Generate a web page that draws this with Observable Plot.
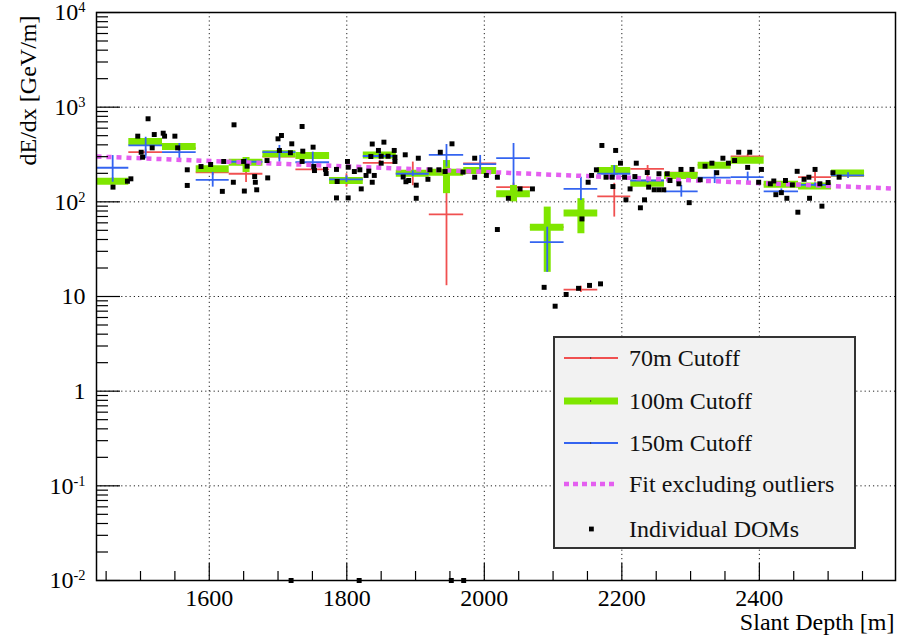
<!DOCTYPE html>
<html><head><meta charset="utf-8">
<script src="https://cdn.jsdelivr.net/npm/d3@7"></script>
<script src="https://cdn.jsdelivr.net/npm/@observablehq/plot@0.6"></script>
<style>
html,body{margin:0;padding:0;background:#fff;}
#chart{position:relative;width:904px;height:638px;overflow:hidden;}
svg{font-family:"Liberation Serif","Times New Roman",serif;}
</style></head><body><div id="chart"></div>
<script>
// ---- data ----
const binEdges = [1436,1483,1532,1581,1629,1678,1726,1775,1824,1872,1920,1970,2018,2067,2116,2165,2213,2262,2311,2359,2407,2457,2505,2553];

const cut70   = [165,335,370,205,198,301,220,172,258,200,73.6,255,143,54,11.8,114,223,203,246,302,152,182,188];
const cut70Lo = [150,310,340,190,160,280,205,143,240,148,13,235,130,50,11,69,175,190,230,290,142,162,178];
const cut70Hi = [180,360,400,220,254,325,236,198,275,263,274,275,158,58,12.8,157,242,218,262,318,162,206,198];

const cut100   = [165,434,384,223,262,322,309,168,312,201,205,214,122,54,76,214,157,190,244,275,153,147,202];
const cut100Lo = [155,410,360,210,204,300,290,158,295,190,122,200,100,18,46,190,148,180,232,262,145,139,192];
const cut100Hi = [176,460,410,237,294,345,330,180,330,213,273,228,149,88,108,242,166,200,258,290,162,156,212];

const cut150   = [229,394,335,171,265,335,262,173,305,198,314,250,289,37.5,137,198,168,129,180,182,129,151,190];
const cut150Lo = [161,285,262,143,245,262,214,160,280,185,233,206,149,18,103,182,158,112,156,162,122,144,178];
const cut150Hi = [308,481,413,205,285,394,335,188,330,212,403,309,413,54,182,242,178,149,214,206,137,158,203];

const fitDepth = [1436, 1850, 2000, 2598];
const fitValue = [301, 229, 207, 138];

const domDepth = [1460,1481,1486,1496,1511,1501,1503,1517,1520,1533,1535,1550,1554,1568,1568,1588,1602,1619,1621,1635,
  1636,1650,1651,1655,1666,1667,1669,1685,1684,1700,1705,1702,1720,1718,1735,1736,1735,1751,1752,1753,
  1769,1770,1785,1786,1785,1802,1801,1802,1811,1819,1821,1828,1832,1840,1837,1835,1846,1854,1850,1860,
  1869,1870,1870,1850,1837,1885,1904,1882,1886,1890,1901,1901,1918,1921,1936,1934,1943,1953,1969,1986,
  1986,2003,2019,2019,2035,2052,2070,2087,2103,2119,2137,2153,2169,2142,2151,2156,2163,2171,2177,2186,
  2187,2191,2198,2204,2206,2212,2219,2221,2227,2233,2237,2239,2247,2254,2261,2254,2266,2270,2283,2286,
  2298,2302,2314,2321,2331,2338,2347,2355,2364,2370,2383,2386,2399,2403,2416,2421,2424,2432,2438,2440,
  2448,2455,2456,2465,2472,2473,2481,2488,2491,2500,2507,2516,
  1719,1818,1952,1970];
const domValue = [143,165,175,494,754,334,296,372,514,531,494,494,372,218,149,236,248,129,267,161,
  651,267,130,238,185,161,134,179,273,463,502,349,410,330,625,343,267,378,236,214,
  220,199,220,164,110,110,267,232,209,218,137,190,211,190,408,301,349,427,303,303,
  349,296,267,256,161,314,289,183,163,168,150,109,173,218,334,218,209,410,206,289,
  182,190,182,51,109,137,137,12.5,7.9,10.5,12.2,13.1,13.6,66,161,190,218,394,182,182,
  145,349,256,182,105,137,185,256,86.5,105,204,143,134,134,134,198,198,168,155,220,
  98,220,171,238,256,203,289,256,273,334,231,334,161,220,155,166,119,125,168,109,
  151,210,77.7,173,182,109,220,155,90,160,203,182,
  0.01,0.01,0.01,0.01];

const xTicks = [1600,1800,2000,2200,2400];
const xTickLabels = ["1600","1800","2000","2200","2400"];
const yTicks = [0.01,0.1,1,10,100,1000,10000];
const yTickLabels = ["10^-2","10^-1","1","10","10^2","10^3","10^4"];
const xTitle = "Slant Depth [m]";
const yTitle = "dE/dx [GeV/m]";
const legendLabels = ["70m Cutoff","100m Cutoff","150m Cutoff","Fit excluding outliers","Individual DOMs"];

// ---- tables ----
function binRows(v, lo, hi) {
  return v.map((y, i) => ({x1: binEdges[i], x2: binEdges[i+1], xm: (binEdges[i]+binEdges[i+1])/2, y, lo: lo[i], hi: hi[i]}));
}
const r70 = binRows(cut70, cut70Lo, cut70Hi);
const r100 = binRows(cut100, cut100Lo, cut100Hi);
const r150 = binRows(cut150, cut150Lo, cut150Hi);
const fit = fitDepth.map((x, i) => ({x, y: fitValue[i]}));
const doms = domDepth.map((x, i) => ({x, y: domValue[i]}));

const xMinor = d3.range(1450, 2598, 50).filter(v => !xTicks.includes(v));
const yMinor = [];
for (let e = -2; e < 4; e++) for (let m = 2; m <= 9; m++) yMinor.push(m * Math.pow(10, e));

const COL70 = "#f05050", COL100 = "#7fe600", COL150 = "#3464f0", COLFIT = "#e45ef0";
const W = 904, H = 638, ML = 96, MR = 9, MT = 12, MB = 58;
const PW = W - ML - MR, PH = H - MT - MB;

function seriesMarks(rows, color, sw) {
  return [
    Plot.ruleX(rows, {x: "xm", y1: "lo", y2: "hi", stroke: color, strokeWidth: sw}),
    Plot.ruleY(rows, {x1: "x1", x2: "x2", y: "y", stroke: color, strokeWidth: sw})
  ];
}

const chart = Plot.plot({
  width: W, height: H,
  marginLeft: ML, marginRight: MR, marginTop: MT, marginBottom: MB,
  style: {fontFamily: '"Liberation Serif","Times New Roman",serif', background: "#fff"},
  x: {domain: [1436, 2598]},
  y: {type: "log", domain: [0.01, 10000]},
  marks: [
    Plot.ruleX(xTicks, {stroke: "#222", strokeWidth: 1, strokeDasharray: "1.2,3"}),
    Plot.ruleY(yTicks.slice(1, -1), {stroke: "#222", strokeWidth: 1, strokeDasharray: "1.2,3"}),
    ...seriesMarks(r70, COL70, 1.8),
    ...seriesMarks(r100, COL100, 7),
    ...seriesMarks(r150, COL150, 1.8),
    Plot.line(fit, {x: "x", y: "y", stroke: COLFIT, strokeWidth: 4.5, strokeDasharray: "5 5", strokeLinecap: "butt"}),
    Plot.dot(doms, {x: "x", y: "y", symbol: "square", r: 2.8, fill: "#000"}),
    // inward ticks
    Plot.tickY(yTicks, {stroke: "#000", strokeWidth: 1.2, insetRight: PW - 24}),
    Plot.tickY(yMinor, {stroke: "#000", strokeWidth: 1.2, insetRight: PW - 12}),
    Plot.tickX(xTicks, {stroke: "#000", strokeWidth: 1.2, insetTop: PH - 17}),
    Plot.tickX(xMinor, {stroke: "#000", strokeWidth: 1.2, insetTop: PH - 9}),
    Plot.axisX({ticks: xTicks, tickFormat: d => xTickLabels[xTicks.indexOf(d)], tickSize: 0, tickPadding: 8, fontSize: 24, label: null}),
    Plot.axisY({ticks: yTicks, tickFormat: d => yTickLabels[yTicks.indexOf(d)], tickSize: 0, tickPadding: 11, fontSize: 24, label: null}),
    Plot.text([xTitle], {text: d => d, frameAnchor: "bottom-right", textAnchor: "end", dy: 42, dx: -1, fontSize: 24, lineAnchor: "middle"}),
    Plot.text([yTitle], {text: d => d, frameAnchor: "top-left", textAnchor: "end", rotate: -90, dx: -68, dy: 3, fontSize: 24, lineAnchor: "middle"}),
    Plot.frame({stroke: "#000", strokeWidth: 1.5})
  ]
});
document.getElementById("chart").appendChild(chart);

// superscripts on y tick labels
d3.select(chart).selectAll('g[aria-label="y-axis tick label"] text').each(function() {
  const t = this.textContent; const parts = t.split("^");
  if (parts.length > 1) {
    this.textContent = parts[0];
    d3.select(this).append("tspan").attr("dy", "-0.55em").attr("font-size", "0.6em").text(parts[1]);
  }
});

// legend
const svg = d3.select(chart);
const lg = svg.append("g").attr("font-size", 24).attr("font-family", '"Liberation Serif","Times New Roman",serif').attr("text-anchor", "start");
lg.append("rect").attr("x", 554).attr("y", 337).attr("width", 301).attr("height", 211)
  .attr("fill", "#f2f2f2").attr("stroke", "#333").attr("stroke-width", 2);
const ys = [358, 401, 443, 484, 529];
const sampleX1 = 564, sampleX2 = 618;
lg.append("line").attr("x1", sampleX1).attr("x2", sampleX2).attr("y1", ys[0]).attr("y2", ys[0]).attr("stroke", COL70).attr("stroke-width", 1.8);
lg.append("line").attr("x1", sampleX1).attr("x2", sampleX2).attr("y1", ys[1]).attr("y2", ys[1]).attr("stroke", COL100).attr("stroke-width", 7);
lg.append("line").attr("x1", sampleX1).attr("x2", sampleX2).attr("y1", ys[2]).attr("y2", ys[2]).attr("stroke", COL150).attr("stroke-width", 1.8);
lg.append("line").attr("x1", sampleX1).attr("x2", sampleX2).attr("y1", ys[3]).attr("y2", ys[3]).attr("stroke", COLFIT).attr("stroke-width", 4.5).attr("stroke-dasharray", "5 4");
for (let i = 0; i < 3; i++) lg.append("rect").attr("x", 590).attr("y", ys[i] - 0.6).attr("width", 1.2).attr("height", 1.2).attr("fill", "#333");
lg.append("rect").attr("x", 589).attr("y", ys[4] - 2.4).attr("width", 4.8).attr("height", 4.8).attr("fill", "#000");
legendLabels.forEach((t, i) => {
  lg.append("text").attr("x", 629).attr("y", ys[i]).attr("dy", "0.33em").attr("text-anchor", "start").attr("fill", "#111").text(t);
});
</script>
</body></html>
